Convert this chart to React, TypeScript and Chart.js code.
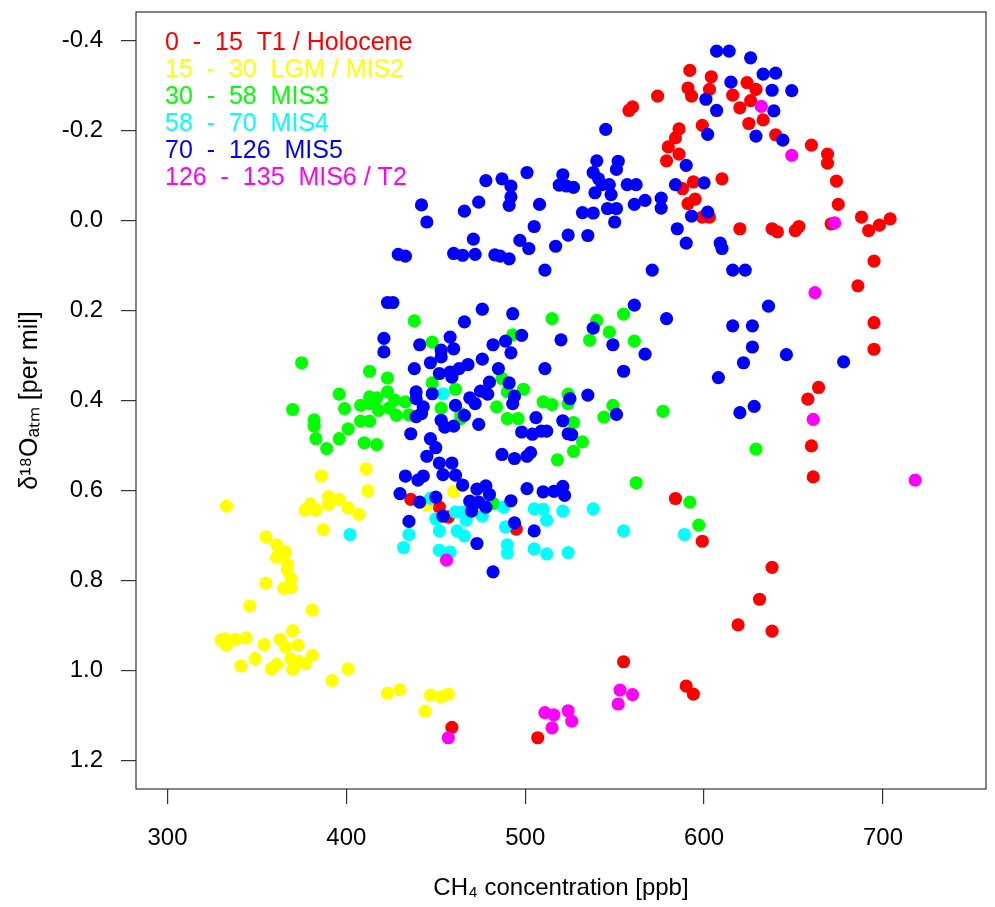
import React, { useEffect, useRef } from "react";
import { Chart, registerables } from "chart.js";

Chart.register(...registerables);

// Legend / series labels (age ranges in ka)
const seriesLabels = [
  "0  -  15  T1 / Holocene",
  "15  -  30  LGM / MIS2",
  "30  -  58  MIS3",
  "58  -  70  MIS4",
  "70  -  126  MIS5",
  "126  -  135  MIS6 / T2",
];
const seriesColors = ["#FF0000", "#FFFF00", "#00FF00", "#00FFFF", "#0000FF", "#FF00FF"];
// later (older) series are drawn on top
const drawOrder = [6, 5, 4, 3, 2, 1];

const xTickValues = [300, 400, 500, 600, 700];
const yTickValues = [-0.4, -0.2, 0.0, 0.2, 0.4, 0.6, 0.8, 1.0, 1.2];

// [CH4 ppb, d18Oatm per mil]
const holocene: [number, number][] = [
  [592, -0.334], [591, -0.295], [593, -0.277], [574, -0.277], [560, -0.253], [558, -0.245],
  [599, -0.212], [586, -0.204], [584, -0.184], [580, -0.164], [586, -0.148], [579, -0.133],
  [588, -0.071], [594, -0.086], [591, -0.038], [595, -0.048], [599, -0.008], [603, -0.008],
  [604, -0.320], [603, -0.292], [624, -0.307], [629, -0.292], [616, -0.279], [626, -0.267],
  [620, -0.251], [633, -0.224], [625, -0.216], [640, -0.191], [660, -0.168], [669, -0.148],
  [669, -0.128], [610, -0.093], [674, -0.088], [675, -0.036], [688, -0.008], [704, -0.004],
  [698, 0.010], [692, 0.022], [671, 0.007], [620, 0.018], [638, 0.018], [641, 0.025],
  [651, 0.022], [653, 0.013], [695, 0.090], [686, 0.145], [695, 0.227], [695, 0.286],
  [664, 0.371], [658, 0.397], [660, 0.501], [661, 0.570], [599, 0.713], [638, 0.771],
  [631, 0.842], [619, 0.899], [638, 0.913], [555, 0.981], [590, 1.035], [594, 1.053],
  [459, 1.127], [507, 1.150], [495, 0.686], [584, 0.618], [436, 0.620], [452, 0.637],
  [457, 0.659],
];

const lgm: [number, number][] = [
  [386, 0.568], [411, 0.552], [412, 0.601], [333, 0.635], [390, 0.614], [396, 0.620],
  [380, 0.630], [377, 0.644], [383, 0.644], [390, 0.631], [401, 0.639], [407, 0.653],
  [387, 0.687], [355, 0.703], [361, 0.721], [366, 0.737], [361, 0.749], [367, 0.764],
  [367, 0.777], [369, 0.795], [355, 0.806], [365, 0.818], [369, 0.816], [346, 0.857],
  [381, 0.866], [370, 0.912], [330, 0.933], [332, 0.930], [333, 0.944], [338, 0.931],
  [344, 0.928], [354, 0.943], [363, 0.931], [366, 0.948], [373, 0.944], [381, 0.967],
  [349, 0.974], [341, 0.990], [361, 0.987], [358, 0.997], [369, 0.975], [373, 0.980],
  [377, 0.985], [370, 0.998], [392, 1.023], [401, 0.997], [423, 1.051], [430, 1.043],
  [444, 1.091], [447, 1.055], [453, 1.059], [457, 1.053], [460, 0.603], [445, 0.633],
];

const mis3: [number, number][] = [
  [438, 0.223], [375, 0.316], [413, 0.335], [423, 0.350], [396, 0.386], [370, 0.420],
  [399, 0.418], [408, 0.411], [413, 0.392], [417, 0.394], [423, 0.381], [427, 0.399],
  [433, 0.403], [418, 0.422], [424, 0.417], [428, 0.433], [435, 0.432], [413, 0.407],
  [382, 0.443], [382, 0.457], [408, 0.446], [413, 0.446], [401, 0.463], [383, 0.485],
  [396, 0.485], [389, 0.507], [410, 0.494], [417, 0.498],
  [515, 0.218], [540, 0.222], [555, 0.208], [547, 0.248], [536, 0.266], [561, 0.268],
  [448, 0.270], [493, 0.254], [487, 0.351], [499, 0.375], [490, 0.381], [448, 0.361],
  [461, 0.375], [453, 0.417], [464, 0.429], [464, 0.440], [484, 0.414], [490, 0.440],
  [496, 0.440], [510, 0.403], [515, 0.409], [524, 0.386], [524, 0.407], [549, 0.411],
  [544, 0.437], [527, 0.449], [532, 0.492], [527, 0.513], [518, 0.532], [577, 0.424],
  [562, 0.583], [592, 0.626], [597, 0.677], [482, 0.629], [629, 0.508],
];

const mis4: [number, number][] = [
  [454, 0.385], [447, 0.617], [488, 0.637], [505, 0.641], [510, 0.642], [521, 0.646],
  [538, 0.641], [512, 0.666], [461, 0.648], [465, 0.648], [450, 0.663], [467, 0.666],
  [476, 0.657], [489, 0.681], [452, 0.690], [462, 0.690], [466, 0.701], [555, 0.690],
  [589, 0.698], [402, 0.698], [435, 0.698], [432, 0.727], [452, 0.733], [458, 0.737],
  [490, 0.721], [490, 0.739], [505, 0.730], [512, 0.741], [524, 0.738],
];

const mis5: [number, number][] = [
  [607, -0.377], [614, -0.377], [626, -0.362], [633, -0.326], [640, -0.328], [615, -0.308],
  [638, -0.290], [649, -0.289], [601, -0.270], [607, -0.245], [639, -0.244], [602, -0.192],
  [629, -0.188], [644, -0.179],
  [545, -0.203], [540, -0.133], [552, -0.132], [551, -0.114], [590, -0.123], [538, -0.107],
  [541, -0.093], [501, -0.107], [478, -0.089], [487, -0.093], [492, -0.077], [492, -0.053],
  [491, -0.034], [521, -0.102], [519, -0.079], [523, -0.077], [527, -0.074], [543, -0.080],
  [547, -0.080], [557, -0.080], [562, -0.080], [584, -0.080], [600, -0.084], [539, -0.062],
  [548, -0.058], [474, -0.041], [508, -0.036], [466, -0.021], [442, -0.035], [445, 0.003],
  [546, -0.027], [551, -0.027], [561, -0.036], [567, -0.045], [576, -0.050], [576, -0.028],
  [532, -0.018], [538, -0.017], [550, 0.003], [593, -0.010], [602, -0.019], [505, 0.013],
  [471, 0.041], [497, 0.044], [502, 0.062], [524, 0.032], [535, 0.033], [517, 0.057],
  [585, 0.018], [590, 0.050], [460, 0.073], [465, 0.077], [472, 0.075], [483, 0.076],
  [486, 0.079], [491, 0.085], [511, 0.110], [571, 0.110], [429, 0.075], [433, 0.079],
  [609, 0.050], [610, 0.062], [616, 0.110], [623, 0.110],
  [636, 0.190], [616, 0.234], [627, 0.234], [627, 0.281], [622, 0.316], [646, 0.298],
  [678, 0.314], [608, 0.349], [620, 0.427], [628, 0.413],
  [423, 0.182], [426, 0.182], [421, 0.262], [421, 0.292], [441, 0.276], [438, 0.329],
  [439, 0.381], [439, 0.396], [439, 0.436], [436, 0.474], [433, 0.568], [440, 0.577],
  [430, 0.607], [441, 0.626], [435, 0.669],
  [476, 0.197], [493, 0.207], [466, 0.225], [561, 0.188], [579, 0.218], [538, 0.239],
  [549, 0.276], [520, 0.265], [498, 0.255], [489, 0.268], [482, 0.276], [492, 0.294],
  [458, 0.259], [453, 0.288], [460, 0.285], [453, 0.303], [447, 0.316], [476, 0.308],
  [567, 0.297], [511, 0.329], [485, 0.329], [468, 0.320], [463, 0.329], [458, 0.337],
  [452, 0.340], [459, 0.348], [555, 0.335], [491, 0.361], [480, 0.359], [475, 0.379],
  [479, 0.386], [469, 0.394], [472, 0.407], [494, 0.390], [493, 0.407], [448, 0.385],
  [461, 0.411], [443, 0.414], [442, 0.429], [466, 0.433], [453, 0.444], [460, 0.457],
  [455, 0.459], [474, 0.453], [506, 0.438], [521, 0.445], [525, 0.396], [535, 0.388],
  [551, 0.431], [498, 0.470], [504, 0.475], [509, 0.468], [512, 0.468], [524, 0.474],
  [526, 0.476], [447, 0.485], [450, 0.505], [445, 0.524], [487, 0.520], [494, 0.529],
  [501, 0.524], [503, 0.516], [452, 0.539], [459, 0.539], [454, 0.565], [461, 0.566],
  [443, 0.568], [465, 0.588], [473, 0.597], [478, 0.590], [480, 0.609], [501, 0.596],
  [510, 0.603], [516, 0.602], [521, 0.591], [522, 0.611], [450, 0.615], [469, 0.624],
  [474, 0.626], [478, 0.637], [470, 0.646], [492, 0.623], [454, 0.657], [494, 0.672],
  [505, 0.690], [473, 0.718], [482, 0.781],
];

const mis6: [number, number][] = [
  [632, -0.254], [649, -0.145], [673, 0.005], [662, 0.160], [661, 0.442], [718, 0.577],
  [456, 0.755], [553, 1.044], [560, 1.054], [552, 1.075], [511, 1.094], [516, 1.099],
  [524, 1.090], [526, 1.113], [515, 1.128], [457, 1.150],
];

const allSeries = [holocene, lgm, mis3, mis4, mis5, mis6];

const FONT_FAMILY = '"Liberation Sans", Arial, Helvetica, sans-serif';

const framePlugin = {
  id: "frameBox",
  beforeDatasetsDraw(chart: any) {
    const { ctx, chartArea } = chart;
    ctx.save();
    ctx.strokeStyle = "#333333";
    ctx.lineWidth = 1.2;
    ctx.strokeRect(chartArea.left, chartArea.top, chartArea.right - chartArea.left, chartArea.bottom - chartArea.top);
    ctx.restore();
  },
};

const textLegendPlugin = {
  id: "textLegend",
  afterDraw(chart: any) {
    const { ctx, chartArea } = chart;
    ctx.save();
    ctx.font = `25px ${FONT_FAMILY}`;
    ctx.textBaseline = "middle";
    ctx.textAlign = "left";
    seriesLabels.forEach((t, i) => {
      ctx.fillStyle = seriesColors[i];
      ctx.fillText(t, chartArea.left + 29, chartArea.top + 31.5 + i * 26.9);
    });
    ctx.restore();
  },
};

export default function App() {
  const canvasRef = useRef<HTMLCanvasElement | null>(null);

  useEffect(() => {
    if (!canvasRef.current) return;
    const font = { family: FONT_FAMILY, size: 24 };
    const chart = new Chart(canvasRef.current, {
      type: "scatter",
      data: {
        datasets: allSeries.map((pts, i) => ({
          label: seriesLabels[i],
          data: pts.map(([x, y]) => ({ x, y })),
          backgroundColor: seriesColors[i],
          borderColor: seriesColors[i],
          borderWidth: 0,
          pointRadius: 6.6,
          pointHoverRadius: 6.6,
          order: drawOrder[i],
        })),
      },
      options: {
        responsive: false,
        animation: false,
        devicePixelRatio: 1,
        events: [],
        layout: { padding: { top: 12, right: 9, left: 0, bottom: 0 } },
        plugins: {
          legend: { display: false },
          tooltip: { enabled: false },
        },
        scales: {
          x: {
            type: "linear",
            min: 282.4,
            max: 757.6,
            afterFit: (s: any) => {
              s.height = 118;
              s.paddingLeft = 0;
              s.paddingRight = 0;
            },
            afterBuildTicks: (s: any) => {
              s.ticks = xTickValues.map((v) => ({ value: v }));
            },
            ticks: {
              padding: 20,
              color: "#000",
              font,
              maxRotation: 0,
              autoSkip: false,
              callback: (v: any) => String(v),
            },
            grid: { display: true, drawOnChartArea: false, drawTicks: true, tickLength: 15, color: "#333", lineWidth: 1.2 },
            border: { display: false },
            title: {
              display: true,
              text: "CH₄ concentration [ppb]",
              color: "#000",
              font,
              padding: { top: 0, bottom: 4 },
            },
          },
          y: {
            type: "linear",
            reverse: true,
            min: -0.464,
            max: 1.264,
            afterFit: (s: any) => {
              s.width = 136;
              s.paddingTop = 0;
              s.paddingBottom = 0;
            },
            afterBuildTicks: (s: any) => {
              s.ticks = yTickValues.map((v) => ({ value: v }));
            },
            ticks: {
              padding: 18,
              color: "#000",
              font,
              autoSkip: false,
              callback: (v: any) => (Math.abs(Number(v)) < 1e-9 ? "0.0" : Number(v).toFixed(1)),
            },
            grid: { display: true, drawOnChartArea: false, drawTicks: true, tickLength: 15, color: "#333", lineWidth: 1.2 },
            border: { display: false },
            title: {
              display: true,
              text: "δ¹⁸Oₐₜₘ [per mil]",
              color: "#000",
              font: { family: FONT_FAMILY, size: 25 },
              padding: { top: 15, bottom: 0 },
            },
          },
        },
      },
      plugins: [framePlugin, textLegendPlugin],
    });
    return () => chart.destroy();
  }, []);

  return (
    <div style={{ position: "fixed", left: 0, top: 0, width: 995, height: 907, background: "#fff" }}>
      <canvas ref={canvasRef} width={995} height={907} style={{ width: 995, height: 907, display: "block" }} />
    </div>
  );
}
